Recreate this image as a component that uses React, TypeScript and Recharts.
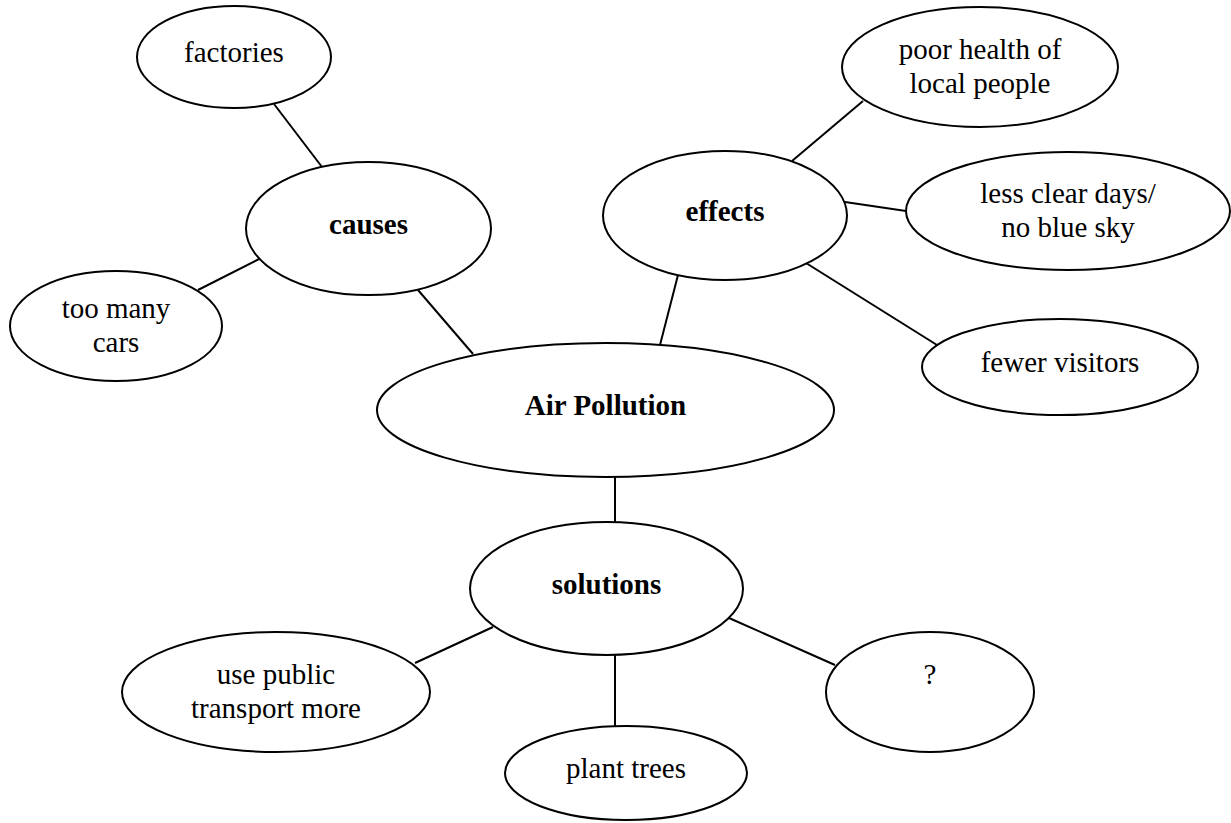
import React from 'react';
import { ScatterChart, Scatter, XAxis, YAxis, ReferenceLine } from 'recharts';

const W = 1231;
const H = 823;

// node data (diagram units, 1 unit = 1px)
const nodeNames = ['factories', 'causes', 'tooManyCars', 'airPollution', 'effects', 'poorHealth', 'lessClear', 'fewerVisitors', 'solutions', 'publicTransport', 'plantTrees', 'question'];
const nodeLabels = [
  ['factories'],
  ['causes'],
  ['too many', 'cars'],
  ['Air Pollution'],
  ['effects'],
  ['poor health of', 'local people'],
  ['less clear days/', 'no blue sky'],
  ['fewer visitors'],
  ['solutions'],
  ['use public', 'transport more'],
  ['plant trees'],
  ['?', ''],
];
const nodeX = [234, 368.5, 116, 605.5, 725, 980, 1068, 1060, 606.5, 276, 626, 930];
const nodeY = [57, 228.5, 326, 410, 215.5, 67, 211, 367, 588.5, 692, 773, 692];
const nodeRx = [97, 122.5, 106, 228.5, 122, 138, 162, 138, 136.5, 154, 121, 104];
const nodeRy = [51, 66.5, 55, 67, 64.5, 60, 59, 48, 66.5, 60, 47, 60];
const boldNodes = ['causes', 'airPollution', 'effects', 'solutions'];

// connector end points
const linkX1 = [274, 198, 418, 678, 792, 845, 806, 615, 493, 615, 729];
const linkY1 = [104, 290, 290, 275, 161, 202, 263, 476, 627, 655, 618];
const linkX2 = [322, 259, 473, 660, 863, 906, 937, 615, 415, 615, 835];
const linkY2 = [167, 259, 354, 345, 101, 211, 345, 522, 663, 727, 665];

const nodes = nodeNames.map((name, i) => ({
  name,
  x: nodeX[i],
  y: nodeY[i],
  rx: nodeRx[i],
  ry: nodeRy[i],
  lines: nodeLabels[i],
  bold: boldNodes.includes(name),
}));

const links = linkX1.map((x, i) => [
  { x, y: linkY1[i] },
  { x: linkX2[i], y: linkY2[i] },
]);

const FONT = '"Liberation Serif", "Times New Roman", serif';
const LINE_H = 34;

const EllipseNode = (props: any) => {
  const { cx, cy, payload } = props;
  const sx = W / W; // px per unit
  const n = payload.lines.length;
  const offset = n === 1 ? 5 : 9;
  return (
    <g>
      <ellipse cx={cx} cy={cy} rx={payload.rx * sx} ry={payload.ry * sx} fill="#fff" stroke="#000" strokeWidth={2} />
      {payload.lines.map((t: string, i: number) => (
        <text
          key={i}
          x={cx}
          y={cy + offset + (i - (n - 1) / 2) * LINE_H}
          textAnchor="middle"
          fontFamily={FONT}
          fontSize={29}
          fontWeight={payload.bold ? 'bold' : 'normal'}
          fill="#000"
        >
          {t}
        </text>
      ))}
    </g>
  );
};

export default function App() {
  return (
    <div style={{ position: 'absolute', left: 0, top: 0, width: W, height: H, background: '#fff' }}>
      <ScatterChart width={W} height={H} margin={{ top: 0, right: 0, bottom: 0, left: 0 }}>
        <XAxis type="number" dataKey="x" domain={[0, W]} hide />
        <YAxis type="number" dataKey="y" domain={[0, H]} reversed hide />
        {links.map((seg, i) => (
          <ReferenceLine key={i} segment={seg} stroke="#000" strokeWidth={2} ifOverflow="visible" />
        ))}
        <Scatter data={nodes} shape={<EllipseNode />} isAnimationActive={false} />
      </ScatterChart>
    </div>
  );
}
